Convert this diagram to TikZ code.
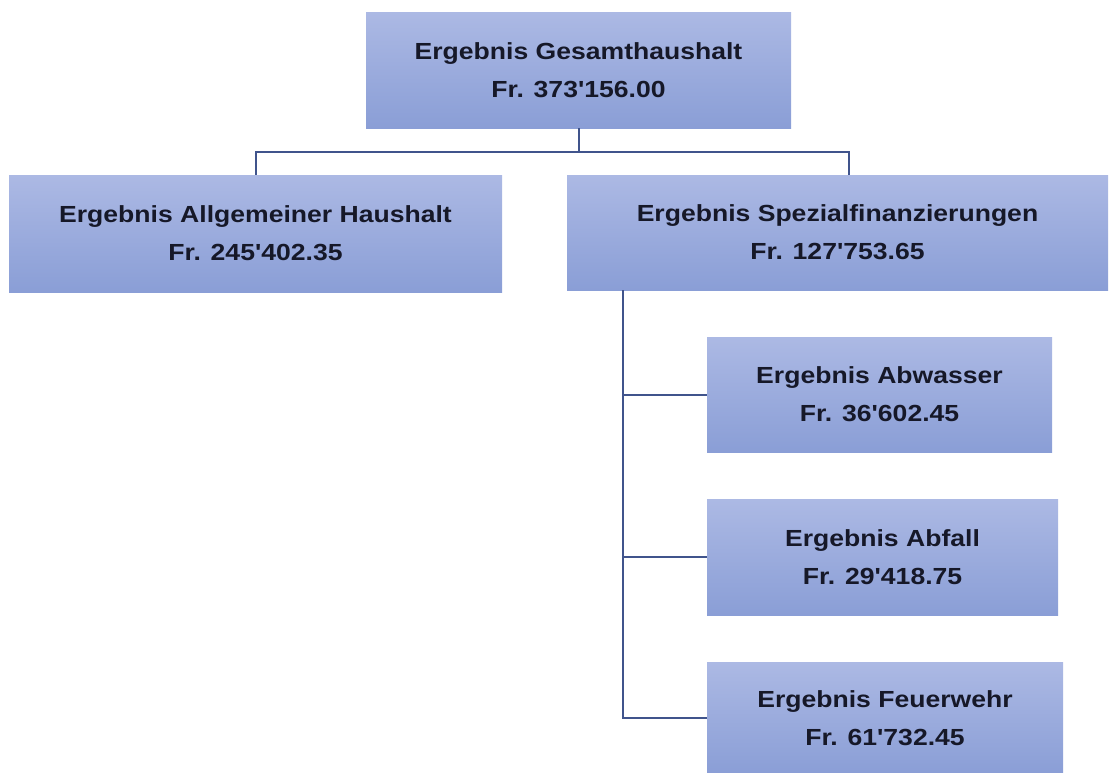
\documentclass[tikz,border=0pt]{standalone}
\usepackage{fontspec}
\setmainfont[Ligatures=TeXOff,FakeStretch=1.14]{Liberation Sans}
\definecolor{boxtop}{RGB}{172,185,228}
\definecolor{boxbot}{RGB}{138,158,214}
\definecolor{linec}{RGB}{64,84,140}
\definecolor{textc}{RGB}{22,24,40}
\tikzset{
  orgbox/.style={rectangle, inner sep=0pt, top color=boxtop, bottom color=boxbot,
    draw=none, align=center, text=textc,
    font=\fontsize{23.3pt}{38pt}\selectfont\bfseries},
  conn/.style={draw=linec, line width=2pt}
}
\begin{document}
\begin{tikzpicture}[x=1pt,y=-1pt]
\useasboundingbox (0,0) rectangle (1116,772);
\node[orgbox, minimum width=425pt, minimum height=116pt] (top) at (578.5,70) {Ergebnis Gesamthaushalt\\Fr. 373'156.00};
\node[orgbox, minimum width=493pt, minimum height=117pt] (left) at (255.5,233.5) {Ergebnis Allgemeiner Haushalt\\Fr. 245'402.35};
\node[orgbox, minimum width=541pt, minimum height=115pt] (right) at (837.5,232.5) {Ergebnis Spezialfinanzierungen\\Fr. 127'753.65};
\node[orgbox, minimum width=345pt, minimum height=115pt] (abw) at (879.5,394.5) {Ergebnis Abwasser\\Fr. 36'602.45};
\node[orgbox, minimum width=351pt, minimum height=116pt] (abf) at (882.5,557) {Ergebnis Abfall\\Fr. 29'418.75};
\node[orgbox, minimum width=356pt, minimum height=112pt] (feu) at (885,718) {Ergebnis Feuerwehr\\Fr. 61'732.45};
\coordinate (j) at (578.5,152);
\coordinate (rj) at (849,152);
\coordinate (rt) at (849,175);
\coordinate (sv) at (623,290);
\draw[conn] (top.south) -- (j);
\draw[conn] (left.north) |- (j) -- (rj) -- (rt);
\draw[conn] (sv) |- (feu.west);
\draw[conn] (sv) |- (abw.west);
\draw[conn] (sv) |- (abf.west);
\end{tikzpicture}
\end{document}
